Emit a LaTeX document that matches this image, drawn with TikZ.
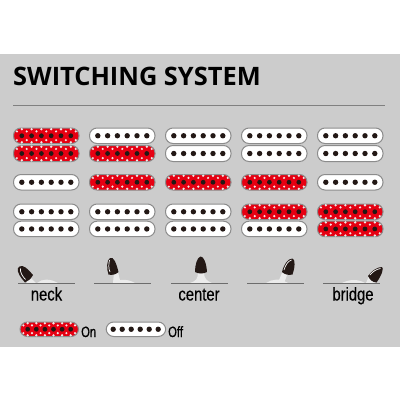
\documentclass[tikz,border=0pt]{standalone}
\usepackage{fontspec}
\setmainfont{Open Sans}
\newfontfamily\narrowfont[FakeStretch=0.8,FakeBold=0.3]{Liberation Sans}
\newfontfamily\legendfont[FakeStretch=0.75,FakeBold=0.3]{Liberation Sans}
\definecolor{bg}{HTML}{CCCCCC}
\definecolor{pickred}{HTML}{E60012}
\definecolor{pickdark}{HTML}{231815}
\definecolor{dotgrey}{HTML}{F0E8E8}
\definecolor{edgegrey}{HTML}{8C8C8C}
\tikzset{
  offbody/.style={draw=edgegrey,line width=1pt,fill=white,rounded corners=7.5pt},
  onbody/.style={draw=edgegrey,line width=1pt,fill=pickred,rounded corners=7.5pt},
  pole/.style={fill=pickdark,draw=none},
  speck/.style={fill=dotgrey,draw=none},
  baseline rule/.style={draw=#1,line width=.9pt},
  knob/.style={fill=pickdark,draw=none},
  bat/.style={fill=white!60!bg,draw=none},
  label/.style={inner sep=0pt,font=\narrowfont\fontsize{18.5}{19}\selectfont,text=black,anchor=base}
}
\def\puW{65.5}\def\puS{9.8}\def\puM{8.3}
% #1 left x, #2 top y, #3 bottom y
\newcommand{\offpu}[3]{%
  \path[offbody] (#1,#2) rectangle (#1+\puW,#3);
  \foreach \i in {0,...,5} \fill[pole] (#1+\puM+\i*\puS,{(#2+#3)/2}) circle (2.7);
}
\newcommand{\onpu}[3]{%
  \path[onbody] (#1,#2) rectangle (#1+\puW,#3);
  \begin{scope}
    \clip[rounded corners=7.5pt] (#1,#2) rectangle (#1+\puW,#3);
    \foreach \i in {0,...,5} {
      \fill[speck] (#1+\puM+\i*\puS,#2+1.2) circle (1.3);
      \fill[speck] (#1+\puM+\i*\puS,#3-1.2) circle (1.3);
      \fill[speck] (#1+\puM+\i*\puS+.5*\puS,#2+3.4) circle (1.2);
      \fill[speck] (#1+\puM+\i*\puS+.5*\puS,#3-3.4) circle (1.2);
    }
    \fill[speck] (#1+\puM-.5*\puS,#2+3.4) circle (1.2);
    \fill[speck] (#1+\puM-.5*\puS,#3-3.4) circle (1.2);
  \end{scope}
  \foreach \i in {0,...,5} \fill[pole] (#1+\puM+\i*\puS,{(#2+#3)/2}) circle (2.4);
}
\begin{document}
\begin{tikzpicture}[x=1pt,y=-1pt]
\useasboundingbox (0,0) rectangle (400,400);
\fill[white] (0,0) rectangle (400,400);
\fill[bg] (0,54) rectangle (400,346.5);
\node[inner sep=0pt,anchor=base west,font=\bfseries\fontsize{25.4}{26}\selectfont,text=black] (title) at (13,85.5) {SWITCHING SYSTEM};
\coordinate (ruleL) at (13,105.5);
\coordinate (ruleR) at (385,105.5);
\draw[baseline rule=gray] (ruleL) -- (ruleR);
% row 1
\onpu{13.5}{128}{143.5}
\onpu{13.5}{145.5}{161.5}
\offpu{89.5}{128}{143.5}
\onpu{89.5}{145.5}{161.5}
\offpu{165.5}{128}{143.5}
\offpu{165.5}{145.5}{161.5}
\offpu{241.5}{128}{143.5}
\offpu{241.5}{145.5}{161.5}
\offpu{317.5}{128}{143.5}
\offpu{317.5}{145.5}{161.5}
% row 2
\offpu{13.5}{174.5}{190}
\onpu{89.5}{174.5}{190}
\onpu{165.5}{174.5}{190}
\onpu{241.5}{174.5}{190}
\offpu{317.5}{174.5}{190}
% row 3
\offpu{13.5}{204}{219.5}
\offpu{13.5}{221.2}{236.7}
\offpu{89.5}{204}{219.5}
\offpu{89.5}{221.2}{236.7}
\offpu{165.5}{204}{219.5}
\offpu{165.5}{221.2}{236.7}
\onpu{241.5}{204}{219.5}
\offpu{241.5}{221.2}{236.7}
\onpu{317.5}{204}{219.5}
\onpu{317.5}{221.2}{236.7}
% toggles: bats
\fill[bat] (37,283) .. controls (42,278.5) and (50,278.5) .. (58,283) -- cycle;
\fill[bat] (29,276) -- (36,283) -- (27,283) -- (25,278) -- cycle;
\fill[bat] (113,283) .. controls (120,278.5) and (128,279) .. (135,283) -- cycle;
\fill[bat] (114,272) -- (118,272) -- (120,280) -- (128,283) -- (113,283) -- cycle;
\fill[bat] (190,283) .. controls (196,281) and (198,279) .. (198,272) -- (204,272) .. controls (204,279) and (207,281) .. (212,283) -- cycle;
\fill[bat] (266,283) .. controls (272,279) and (280,278) .. (288,283) -- cycle;
\fill[bat] (282,273) -- (287.5,274) -- (284,283) -- (272,283) -- (279,280) -- cycle;
\fill[bat] (342,283) .. controls (350,279) and (358,279) .. (365,283) -- cycle;
\fill[bat] (369,276) -- (376,282) -- (376,283) -- (366,283) -- cycle;
% toggles: rules
\foreach \x in {18,94,171,247,323} \draw[baseline rule=gray!85!black] (\x,283) -- (\x+57,283);
% neck
\fill[knob] (19.5,266.5) .. controls (23,264.5) and (27,268) .. (33,275) .. controls (31,279) and (28,281) .. (25,282.5) .. controls (21,278) and (16.5,272) .. (18,268) -- cycle;
\draw[white,line width=.7pt] (20.5,268.5) .. controls (20,272) and (22,276) .. (25.5,279.5);
% position 2
\fill[knob] (110,258) .. controls (113.5,256.5) and (116,262) .. (118.5,272) .. controls (116,274.5) and (112,275.5) .. (108.5,274.5) .. controls (106.5,269) and (106.5,260) .. (110,258) -- cycle;
\draw[white,line width=.7pt] (109.5,260) .. controls (108.5,264) and (108.5,269) .. (110,272);
% centre
\fill[knob] (200.5,256.5) .. controls (203.5,256) and (206.5,263) .. (207,272) .. controls (203,274) and (199,274) .. (195,272) .. controls (195,265) and (197,257.5) .. (200.5,256.5) -- cycle;
% position 4
\fill[knob] (292.5,258.5) .. controls (295.5,259) and (295,268) .. (292.5,274.5) .. controls (288,275.5) and (285,274.5) .. (282,272) .. controls (284,264) and (288,258.5) .. (292.5,258.5) -- cycle;
\draw[white,line width=.7pt] (291.5,260) .. controls (288,261) and (285.5,265) .. (284,270);
% bridge
\fill[knob] (382,267) .. controls (384,268) and (382,275) .. (376.5,282.5) .. controls (373,282.5) and (370,280) .. (368,276) .. controls (372,270.5) and (377,267) .. (382,267) -- cycle;
\draw[white,line width=.7pt] (380.5,268.5) .. controls (377,269) and (372.5,271.5) .. (370,275);
% labels
\node[label] (neck) at (46.5,300.5) {neck};
\node[label] (center) at (199,300.5) {center};
\node[label] (bridge) at (353,300.5) {bridge};
% legend
\def\puW{58.5}\def\puS{8.6}\def\puM{7.7}
\onpu{20}{322}{336.5}
\def\puW{59.5}\def\puS{9}\def\puM{7}
\offpu{106.2}{322}{336.5}
\node[inner sep=0pt,anchor=base west,font=\legendfont\fontsize{15}{16}\selectfont,text=black] (on) at (81,337) {On};
\node[inner sep=0pt,anchor=base west,font=\legendfont\fontsize{15}{16}\selectfont,text=black] (off) at (168,337) {Off};
\end{tikzpicture}
\end{document}
